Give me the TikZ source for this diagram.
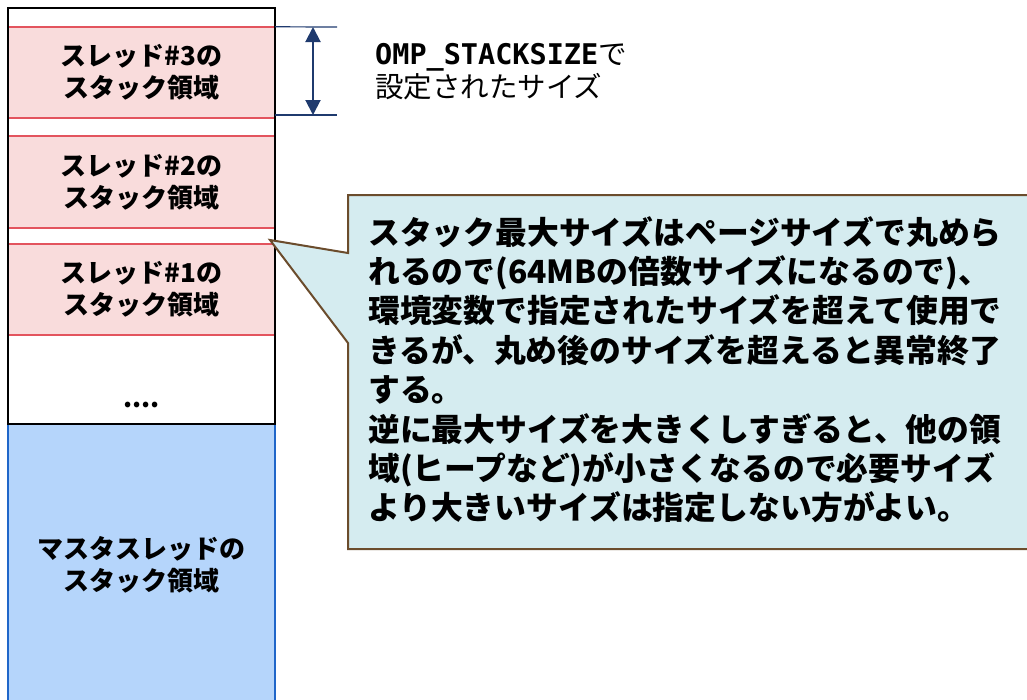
\documentclass[tikz,border=0pt]{standalone}
\usepackage{fontspec}
\setmainfont{Noto Sans CJK JP}
\setmonofont{DejaVu Sans Mono}
\usetikzlibrary{arrows.meta}
\definecolor{pinkfill}{HTML}{F9DCDC}
\definecolor{pinkline}{HTML}{E3545E}
\definecolor{bluefill}{HTML}{B5D5FB}
\definecolor{blueline}{HTML}{1F66C9}
\definecolor{notefill}{HTML}{D5ECF0}
\definecolor{noteline}{HTML}{6B4C2C}
\definecolor{navy}{HTML}{1F3A6E}
\tikzset{
  stackbox/.style={fill=pinkfill,minimum width=267pt,inner sep=0pt,
    font=\fontsize{26}{32}\selectfont\bfseries,align=center},
  redline/.style={draw=pinkline,line width=1.5pt},
  dimline/.style={draw=navy,line width=1.2pt},
}

\begin{document}
\begin{tikzpicture}[x=1pt,y=-1pt]
  \useasboundingbox (0,0) rectangle (1027,699);
  \node[stackbox,minimum height=91pt] (t3) at (141.5,72.5)
    {スレッド\#3の\\スタック領域};
  \node[stackbox,minimum height=92pt] (t2) at (141.5,182)
    {スレッド\#2の\\スタック領域};
  \node[stackbox,minimum height=91pt] (t1) at (141.5,289.5)
    {スレッド\#1の\\スタック領域};
  \foreach \t in {t3,t2,t1}{
    \draw[redline]
      (\t.north west)
      --
      (\t.north east);
    \draw[redline]
      (\t.south west)
      --
      (\t.south east);
  }
  \node[font=\fontsize{26}{32}\selectfont\bfseries,anchor=base] (dots)
    at (141.5,407) {....};
  \node[fill=bluefill,draw=blueline,line width=1.5pt,minimum width=267pt,
    minimum height=281pt,inner sep=0pt,align=center,
    font=\fontsize{26}{32}\selectfont\bfseries] (master) at (141.5,564.5)
    {マスタスレッドの\\スタック領域};
  \draw[line width=1.5pt]
    (8,8)
    rectangle
    (275,424);
  \coordinate (d1) at (337,27);
  \coordinate (d2a) at (275,115);
  \coordinate (d2) at (337,115);
  \coordinate (a1) at (313,27);
  \coordinate (a2) at (313,115);
  \draw[dimline]
    (t3.north east)
    --
    (d1);
  \draw[dimline]
    (d2a)
    --
    (d2);
  \draw[dimline,line width=2pt,{Triangle[length=15pt,width=15pt]}-{Triangle[length=15pt,width=15pt]}]
    (a1)
    --
    (a2);
  \node[anchor=west,align=left,inner sep=0pt,
    font=\fontsize{28.5}{33}\selectfont] (sizetext) at (375,72)
    {\texttt{\bfseries OMP\_STACKSIZE}で\\設定されたサイズ};
  \coordinate (tip) at (270,240);
  \draw[fill=notefill,draw=noteline,line width=2pt]
    (348,253)
    --
    (348,195)
    --
    (1040,195)
    --
    (1040,549)
    --
    (348,549)
    --
    (348,343)
    --
    (tip)
    --
    cycle;
  \node[anchor=north west,align=left,inner sep=0pt,
    font=\fontsize{31.8}{39.4}\selectfont\bfseries] (note) at (368,216)
    {スタック最大サイズはページサイズで丸めら\\
     れるので(64MBの倍数サイズになるので)、\\
     環境変数で指定されたサイズを超えて使用で\\
     きるが、丸め後のサイズを超えると異常終了\\
     する。\\
     逆に最大サイズを大きくしすぎると、他の領\\
     域(ヒープなど)が小さくなるので必要サイズ\\
     より大きいサイズは指定しない方がよい。};
\end{tikzpicture}
\end{document}
